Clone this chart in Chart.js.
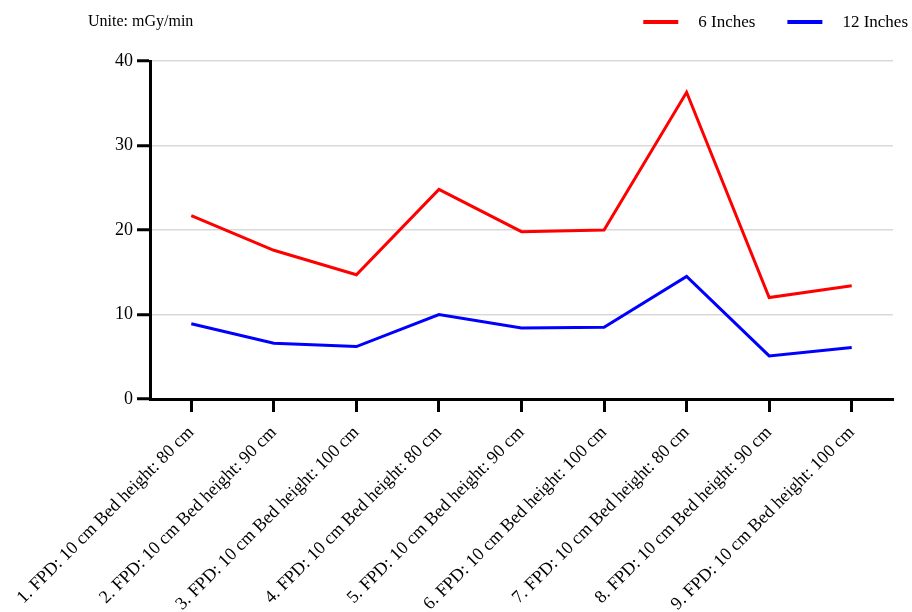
<!DOCTYPE html>
<html>
<head>
<meta charset="utf-8">
<style>
  html, body { margin: 0; padding: 0; background: #ffffff; }
  #wrap { width: 912px; height: 612px; }
</style>
<script src="https://cdn.jsdelivr.net/npm/chart.js@4/dist/chart.umd.min.js"></script>
</head>
<body>
<div id="wrap"><canvas id="c" width="912" height="612"></canvas></div>
<script>
// Dose rate by FPD distance and bed height (mGy/min)
const categories = [
  "1. FPD: 10 cm Bed height: 80 cm",
  "2. FPD: 10 cm Bed height: 90 cm",
  "3. FPD: 10 cm Bed height: 100 cm",
  "4. FPD: 10 cm Bed height: 80 cm",
  "5. FPD: 10 cm Bed height: 90 cm",
  "6. FPD: 10 cm Bed height: 100 cm",
  "7. FPD: 10 cm Bed height: 80 cm",
  "8. FPD: 10 cm Bed height: 90 cm",
  "9. FPD: 10 cm Bed height: 100 cm"
];
const sixInches = [21.7, 17.6, 14.7, 24.8, 19.8, 20.0, 36.3, 12.0, 13.4];
const twelveInches = [8.9, 6.6, 6.2, 10.0, 8.4, 8.5, 14.5, 5.1, 6.1];
const seriesNames = ["6 Inches", "12 Inches"];
const unitText = "Unite: mGy/min";
const yTicks = { min: 0, max: 40, step: 10 };

const FONT = "'Liberation Serif', 'Times New Roman', serif";

// Unit caption at top-left and line legend at top-right
const headerPlugin = {
  id: 'header',
  afterDraw(chart) {
    const ctx = chart.ctx;
    const y = 22;
    ctx.save();
    ctx.fillStyle = '#000';
    ctx.textBaseline = 'middle';
    ctx.textAlign = 'left';
    ctx.font = '16px ' + FONT;
    ctx.fillText(unitText, 88, y);

    ctx.font = '17px ' + FONT;
    const lineLen = 35, textGap = 20, itemGap = 32, rightEdge = 908;
    const items = chart.data.datasets.map(ds => ({
      label: ds.label, color: ds.borderColor, w: ctx.measureText(ds.label).width
    }));
    let total = 0;
    items.forEach((it, i) => { total += lineLen + textGap + it.w + (i ? itemGap : 0); });
    let x = rightEdge - total;
    items.forEach(it => {
      ctx.strokeStyle = it.color;
      ctx.lineWidth = 4;
      ctx.beginPath();
      ctx.moveTo(x, y);
      ctx.lineTo(x + lineLen, y);
      ctx.stroke();
      ctx.fillText(it.label, x + lineLen + textGap, y + 1);
      x += lineLen + textGap + it.w + itemGap;
    });
    ctx.restore();
  }
};

new Chart(document.getElementById('c'), {
  type: 'line',
  data: {
    labels: categories,
    datasets: [
      { label: seriesNames[0], data: sixInches, borderColor: '#ff0000', backgroundColor: '#ff0000',
        borderWidth: 3, pointRadius: 0, tension: 0, fill: false },
      { label: seriesNames[1], data: twelveInches, borderColor: '#0000ff', backgroundColor: '#0000ff',
        borderWidth: 3, pointRadius: 0, tension: 0, fill: false }
    ]
  },
  options: {
    responsive: false,
    animation: false,
    devicePixelRatio: 1,
    layout: { padding: { top: 61, right: 19, bottom: 0, left: 0 } },
    plugins: {
      legend: { display: false },
      tooltip: { enabled: false }
    },
    scales: {
      x: {
        offset: true,
        grid: { display: true, drawOnChartArea: false, tickLength: 13, tickWidth: 3, tickColor: '#000' },
        border: { display: true, color: '#000', width: 3 },
        ticks: {
          autoSkip: false, minRotation: 45, maxRotation: 45,
          color: '#000', padding: 10,
          font: { family: FONT, size: 18 }
        },
        afterFit(scale) { scale.height = 213; }
      },
      y: {
        min: yTicks.min, max: yTicks.max,
        grid: { color: '#d9d9d9', lineWidth: 1.5, tickLength: 13, tickWidth: 3, tickColor: '#000' },
        border: { display: true, color: '#000', width: 3 },
        ticks: {
          stepSize: yTicks.step, color: '#000', padding: 4,
          font: { family: FONT, size: 18 }
        },
        afterFit(scale) { scale.width = 150; }
      }
    }
  },
  plugins: [headerPlugin]
});
</script>
</body>
</html>
